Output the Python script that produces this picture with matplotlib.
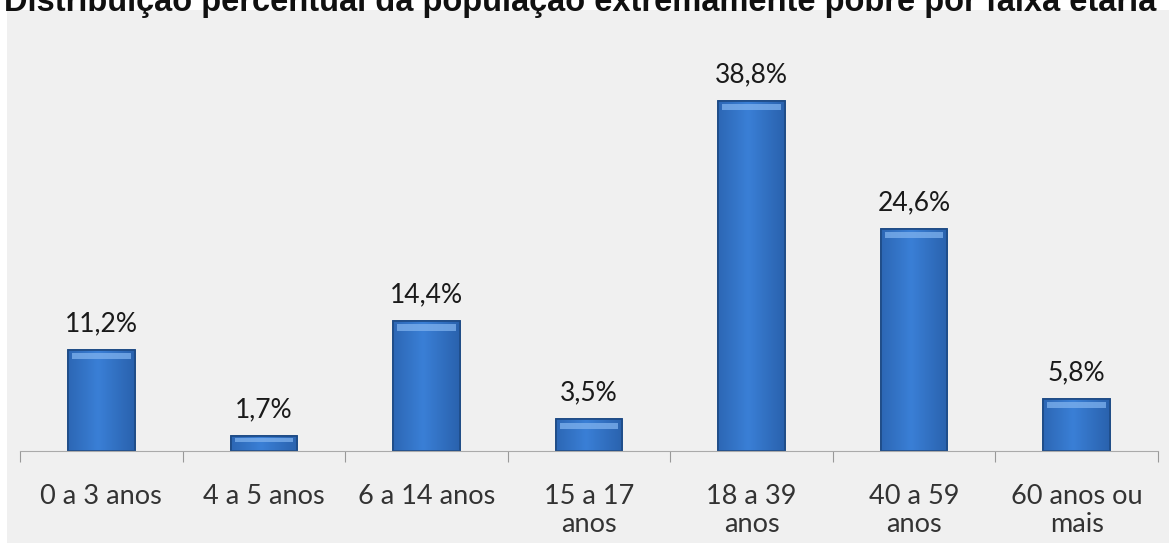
import matplotlib.pyplot as plt
import numpy as np
from matplotlib.patches import Rectangle

# dados
faixas = ['0 a 3 anos', '4 a 5 anos', '6 a 14 anos', '15 a 17\nanos',
          '18 a 39\nanos', '40 a 59\nanos', '60 anos ou\nmais']
valores = [11.2, 1.7, 14.4, 3.5, 38.8, 24.6, 5.8]
rotulos = ['11,2%', '1,7%', '14,4%', '3,5%', '38,8%', '24,6%', '5,8%']
titulo = 'Distribuição percentual da população extremamente pobre por faixa etária'

plt.rcParams['font.family'] = ['Lato', 'DejaVu Sans']

fig = plt.figure(figsize=(11.69, 5.43), dpi=100)
fig.patch.set_facecolor('white')
# painel cinza de fundo
fig.patches.append(Rectangle((7/1169, 0), 1 - 7/1169, 1 - 10/543,
                             transform=fig.transFigure, facecolor='#f0f0f0',
                             edgecolor='none', zorder=-10))

ax = fig.add_axes([20/1169, 92/543, 1138/1169, 361/543])
ax.set_facecolor('none')
ax.set_zorder(2)

x = np.arange(len(valores))
bars = ax.bar(x, valores, width=0.41, color='#2f6cbf', edgecolor='#1d4a85',
              linewidth=1.2, zorder=2)

# gradiente horizontal + brilho no topo
grad = np.linspace(0, 1, 64)
shade = 1 - 0.55 * np.abs(grad - 0.45) * 2
cmap = plt.matplotlib.colors.LinearSegmentedColormap.from_list(
    'b', ['#1f4f93', '#3a7fd6'])
for b in bars:
    x0, w, h = b.get_x(), b.get_width(), b.get_height()
    im = ax.imshow(shade[None, :], extent=(x0, x0 + w, 0, h), cmap=cmap,
                   aspect='auto', zorder=3, vmin=0, vmax=1)
    im.set_clip_path(b)
    top = min(0.9, h * 0.3)
    hl = Rectangle((x0 + w * 0.06, h - top - 0.15), w * 0.88, top * 0.75,
                   facecolor='#7fb2ee', edgecolor='none', alpha=0.75, zorder=4)
    ax.add_patch(hl)
    ax.add_patch(Rectangle((x0, 0), w, h, facecolor='none',
                           edgecolor='#1d4a85', linewidth=1.2, zorder=5))

for xi, v, r in zip(x, valores, rotulos):
    ax.text(xi, v + 2.9, r, ha='center', va='center', fontsize=19,
            color='#1a1a1a')

ax.set_xlim(-0.5, len(valores) - 0.5)
ax.set_ylim(0, 40)
ax.set_yticks([])
ax.set_xticks(np.arange(len(valores) + 1) - 0.5, minor=False)
ax.set_xticklabels([])
ax.tick_params(axis='x', length=8, color='#999999', direction='out')
ax.set_xticks(x, minor=True)
ax.set_xticklabels(faixas, minor=True, fontsize=19.5, color='#333333',
                   linespacing=1.15)
ax.tick_params(axis='x', which='minor', length=0, pad=24)
for s in ['top', 'right', 'left']:
    ax.spines[s].set_visible(False)
ax.spines['bottom'].set_color('#aaaaaa')
ax.spines['bottom'].set_zorder(6)

fig.text(0.003, 1 - 2/543, titulo, ha='left', va='center', fontsize=23.5,
         fontweight='bold', color='#111111', family='Liberation Sans')

fig.savefig('out.png', dpi=100)
